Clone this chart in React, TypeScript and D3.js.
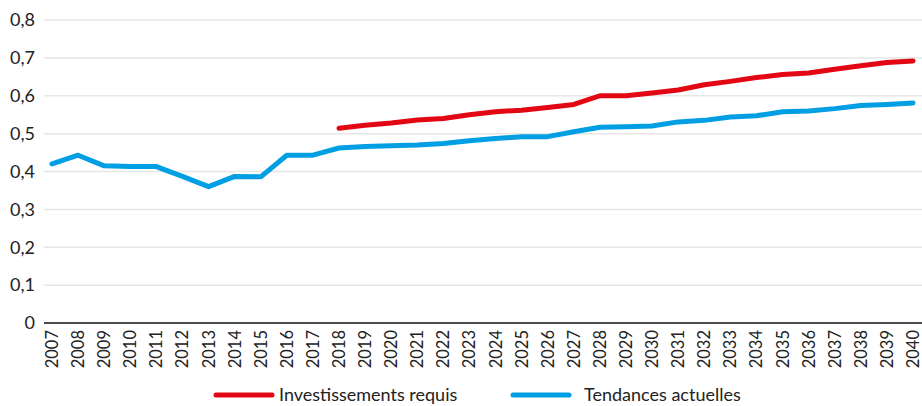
import { useEffect, useRef } from 'react';
import * as d3 from 'd3';

const years = d3.range(2007, 2041).map(String);

const tendances = [
  0.42, 0.443, 0.415, 0.413, 0.413, 0.387, 0.36, 0.387, 0.386, 0.443, 0.443,
  0.462, 0.466, 0.468, 0.47, 0.474, 0.481, 0.487, 0.492, 0.492, 0.505, 0.517,
  0.518, 0.52, 0.531, 0.535, 0.544, 0.547, 0.558, 0.56, 0.566, 0.574, 0.577,
  0.581,
];

// commence en 2018
const investissements = [
  0.514, 0.522, 0.528, 0.536, 0.54, 0.55, 0.558, 0.562, 0.569, 0.577, 0.6,
  0.6, 0.607, 0.615, 0.629, 0.638, 0.648, 0.656, 0.66, 0.67, 0.679, 0.688,
  0.692,
];

const yTicks = [0, 0.1, 0.2, 0.3, 0.4, 0.5, 0.6, 0.7, 0.8];

const series = [
  { name: 'Investissements requis', color: '#e30613', start: '2018', values: investissements },
  { name: 'Tendances actuelles', color: '#009fe3', start: '2007', values: tendances },
];

const App = () => {
  const svgRef = useRef(null);

  useEffect(() => {
    const width = 922;
    const height = 406;
    const font = 'Lato, sans-serif';
    const plot = { left: 44, right: 922, top: 20, bottom: 323 };

    const svg = d3.select(svgRef.current);
    svg.selectAll('*').remove();

    const x = d3.scalePoint().domain(years).range([52, 913]);
    const y = d3.scaleLinear().domain([0, 0.8]).range([plot.bottom, plot.top]);

    // grille
    svg
      .append('g')
      .selectAll('line')
      .data(yTicks.filter((t) => t > 0))
      .join('line')
      .attr('x1', plot.left)
      .attr('x2', plot.right)
      .attr('y1', (d) => y(d))
      .attr('y2', (d) => y(d))
      .attr('stroke', '#e6e6e6')
      .attr('stroke-width', 1.5);

    // étiquettes Y
    svg
      .append('g')
      .selectAll('text')
      .data(yTicks)
      .join('text')
      .attr('x', 35)
      .attr('y', (d) => y(d))
      .attr('dy', '0.35em')
      .attr('text-anchor', 'end')
      .attr('fill', '#222')
      .style('font-family', font)
      .style('font-size', '18px')
      .text((d) => (d === 0 ? '0' : d3.format('.1f')(d).replace('.', ',')));

    // axe X
    svg
      .append('line')
      .attr('x1', plot.left)
      .attr('x2', plot.right)
      .attr('y1', plot.bottom)
      .attr('y2', plot.bottom)
      .attr('stroke', '#111')
      .attr('stroke-width', 1.5);

    svg
      .append('g')
      .selectAll('text')
      .data(years)
      .join('text')
      .attr('transform', (d) => `translate(${x(d) + 6},${plot.bottom + 7}) rotate(-90)`)
      .attr('text-anchor', 'end')
      .attr('fill', '#222')
      .style('font-family', font)
      .style('font-size', '16.5px')
      .text((d) => d);

    // courbes
    const line = d3
      .line()
      .x((d) => x(d[0]))
      .y((d) => y(d[1]));

    series.forEach((s) => {
      const offset = years.indexOf(s.start);
      const pts = s.values.map((v, i) => [years[offset + i], v]);
      svg
        .append('path')
        .datum(pts)
        .attr('d', line)
        .attr('fill', 'none')
        .attr('stroke', s.color)
        .attr('stroke-width', 5)
        .attr('stroke-linecap', 'round')
        .attr('stroke-linejoin', 'round');
    });

    // légende
    const legendX = [216, 513];
    series.forEach((s, i) => {
      const g = svg.append('g').attr('transform', `translate(${legendX[i]},395)`);
      g.append('line')
        .attr('x1', 0)
        .attr('x2', 56)
        .attr('stroke', s.color)
        .attr('stroke-width', 5)
        .attr('stroke-linecap', 'round');
      g.append('text')
        .attr('x', i === 0 ? 63 : 71)
        .attr('dy', '0.35em')
        .attr('fill', '#222')
        .style('font-family', font)
        .style('font-size', '18px')
        .text(s.name);
    });

    svg.attr('width', width).attr('height', height);
  }, []);

  return (
    <svg
      ref={svgRef}
      style={{ position: 'absolute', left: 0, top: 0, background: '#fff' }}
    />
  );
};

export default App;
